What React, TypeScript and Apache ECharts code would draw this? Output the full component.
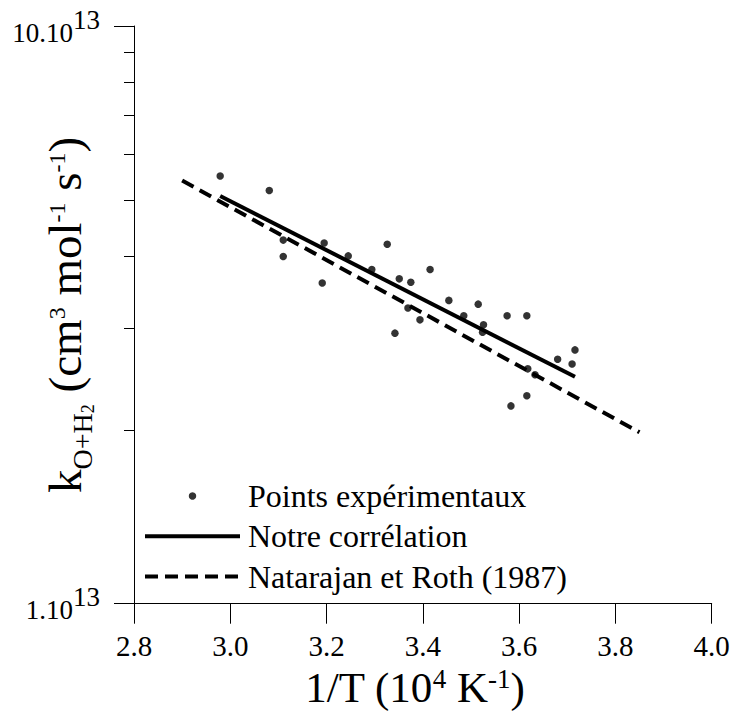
import React, { useEffect, useRef } from "react";
import * as echarts from "echarts";

// 1/T (10^4 K^-1) and k (units of 10^13 cm3 mol-1 s-1)
const expX = [2.979, 3.081, 3.110, 3.110, 3.191, 3.195, 3.245, 3.294, 3.326, 3.351, 3.375, 3.342, 3.369, 3.394, 3.415, 3.454, 3.485, 3.515, 3.526, 3.524, 3.575, 3.616, 3.618, 3.633, 3.616, 3.583, 3.680, 3.716, 3.710];
const expK = [5.50, 5.19, 4.26, 3.99, 3.59, 4.21, 4.00, 3.79, 4.19, 3.65, 3.60, 2.94, 3.25, 3.10, 3.79, 3.35, 3.15, 3.30, 3.04, 2.95, 3.15, 3.15, 2.55, 2.49, 2.29, 2.20, 2.65, 2.75, 2.60];
const oursX = [2.979, 3.716];
const oursK = [5.08, 2.47];
const nrX = [2.9, 3.85];
const nrK = [5.4, 1.98];
const xMin = 2.8;
const xMax = 4.0;
const xStep = 0.2;
const yMin = 1;
const yMax = 10;
const yMinorTicks = [2, 3, 4, 5, 6, 7, 8, 9];
const yTickLabels: Record<number, string> = { 1: "1.10", 10: "10.10" };
const yTickExp = "13";
const seriesNames = ["Points expérimentaux", "Notre corrélation", "Natarajan et Roth (1987)"];

const FONT = "Liberation Serif";

export default function App() {
  const ref = useRef<HTMLDivElement>(null);
  useEffect(() => {
    if (!ref.current) return;
    const chart = echarts.init(ref.current, undefined, { renderer: "svg" });
    const zip = (xs: number[], ys: number[]) => xs.map((x, i) => [x, ys[i]]);
    chart.setOption({
      animation: false,
      backgroundColor: "#ffffff",
      textStyle: { fontFamily: FONT },
      grid: { left: 134, right: 21.3, top: 26, bottom: 108.3, containLabel: false, outerBoundsMode: "none" },
      xAxis: {
        type: "value",
        min: xMin,
        max: xMax,
        interval: xStep,
        splitLine: { show: false },
        axisLine: { lineStyle: { color: "#000", width: 1 } },
        axisTick: { length: 20, lineStyle: { color: "#000", width: 1 } },
        axisLabel: {
          margin: 28,
          color: "#000",
          fontFamily: FONT,
          fontSize: 29,
          formatter: (v: number) => v.toFixed(1),
        },
        name: "{a|1/T (10}{s|4}{a| K}{s|-1}{a|)}",
        nameLocation: "middle",
        nameGap: 62,
        nameMoveOverlap: false,
        nameTextStyle: {
          color: "#000",
          fontFamily: FONT,
          padding: [0, 16, 0, 0],
          rich: {
            a: { fontSize: 43, lineHeight: 38, verticalAlign: "top", fontFamily: FONT, color: "#000" },
            s: { fontSize: 27, lineHeight: 27, verticalAlign: "top", padding: [0, 0, 0, 0], fontFamily: FONT, color: "#000" },
          },
        },
      },
      yAxis: [
        {
          type: "log",
          logBase: 10,
          min: yMin,
          max: yMax,
          splitLine: { show: false },
          axisLine: { show: true, lineStyle: { color: "#000", width: 1 } },
          axisTick: { show: true, length: 20, lineStyle: { color: "#000", width: 1 } },
          axisLabel: {
            margin: 34,
            color: "#000",
            fontFamily: FONT,
            formatter: (v: number) => {
              const r = Math.round(v);
              return yTickLabels[r] ? `{n|${yTickLabels[r]}}{s|${yTickExp}}` : "";
            },
            rich: {
              n: { fontSize: 27, lineHeight: 40, verticalAlign: "bottom", fontFamily: FONT, color: "#000" },
              s: { fontSize: 27, lineHeight: 27, verticalAlign: "top", fontFamily: FONT, color: "#000" },
            },
          },
          name: "{a|k}{b|O+H}{c|2}{a| (cm}{s|3}{a| mol}{s|-1}{a| s}{s|-1}{a|)}",
          nameLocation: "middle",
          nameRotate: 90,
          nameGap: 46,
          nameMoveOverlap: false,
          nameTextStyle: {
            color: "#000",
            fontFamily: FONT,
            rich: {
              a: { fontSize: 47, lineHeight: 47, verticalAlign: "top", fontFamily: FONT, color: "#000" },
              b: { fontSize: 28, lineHeight: 28, verticalAlign: "top", padding: [27.5, 0, 0, 0], fontFamily: FONT, color: "#000" },
              c: { fontSize: 18, lineHeight: 18, verticalAlign: "top", padding: [37.6, 0, 0, 0], fontFamily: FONT, color: "#000" },
              s: { fontSize: 24, lineHeight: 24, verticalAlign: "top", padding: [4, 0, 0, 0], fontFamily: FONT, color: "#000" },
            },
          },
        },
        {
          type: "log",
          logBase: 10,
          min: yMin,
          max: yMax,
          position: "left",
          splitLine: { show: false },
          axisLine: { show: false },
          axisLabel: { show: false },
          axisTick: { show: true, length: 10, customValues: yMinorTicks, lineStyle: { color: "#000", width: 1 } },
        },
      ],
      legend: {
        orient: "vertical",
        left: 143,
        top: 480,
        padding: 0,
        itemWidth: 95,
        itemHeight: 7.5,
        itemGap: 8.3,
        textStyle: { color: "#000", fontFamily: FONT, fontSize: 32, lineHeight: 32, padding: [0, 0, 0, 3] },
        data: [
          { name: seriesNames[0], icon: "circle" },
          { name: seriesNames[1], lineStyle: { width: 4, type: "solid" }, itemStyle: { opacity: 0 } },
          { name: seriesNames[2], lineStyle: { width: 4, type: [13, 7] }, itemStyle: { opacity: 0 } },
        ],
      },
      series: [
        {
          name: seriesNames[0],
          type: "scatter",
          symbol: "circle",
          symbolSize: 7.5,
          itemStyle: { color: "#000" },
          data: zip(expX, expK),
          z: 3,
        },
        {
          name: seriesNames[1],
          type: "line",
          symbol: "none",
          lineStyle: { color: "#000", width: 4, type: "solid" },
          itemStyle: { color: "#000" },
          data: zip(oursX, oursK),
          z: 2,
        },
        {
          name: seriesNames[2],
          type: "line",
          symbol: "none",
          lineStyle: { color: "#000", width: 4, type: [13, 7] },
          itemStyle: { color: "#000" },
          data: zip(nrX, nrK),
          z: 2,
        },
      ],
    });
    return () => chart.dispose();
  }, []);
  return (
    <div
      ref={ref}
      style={{ position: "fixed", left: 0, top: 0, width: 733, height: 712, background: "#fff" }}
    />
  );
}
